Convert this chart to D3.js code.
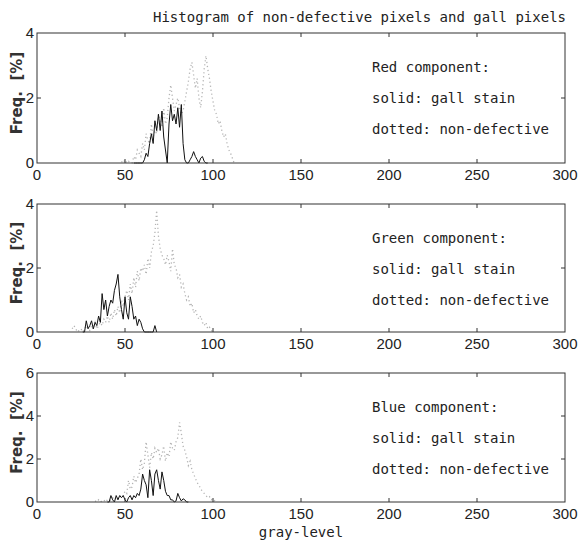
<!DOCTYPE html>
<html>
<head>
<meta charset="utf-8">
<script src="https://cdn.jsdelivr.net/npm/d3@7"></script>
<style>
  body { margin: 0; background: #fff; }
  .mono { font-family: "DejaVu Sans Mono", "Liberation Mono", monospace; }
  .tick-label { font-family: "Liberation Sans Narrow", "Liberation Sans", sans-serif; font-size: 15px; fill: #222; }
</style>
</head>
<body>
<div class="chart"></div>
<script>
// gray levels run from 0 to 300 on every panel
const xTicks = [0, 50, 100, 150, 200, 250, 300];
const titleText = "Histogram of non-defective pixels and gall pixels";
const componentNames = ["Red component:", "Green component:", "Blue component:"];
const yMaxes = [4, 4, 6];
const yTickSets = [[0, 2, 4], [0, 2, 4], [0, 2, 4, 6]];

// each series starts at a gray level and has one value per level after that
const redGallStart = 55;
const redGall = [0, 0, 0, 0, 0, 0, 0.1, 0.3, 0.2, 0.6, 0.9, 0.6, 1.3, 1.0, 1.5, 1.0, 1.6, 0.8, 0.4, 0,
  1.2, 1.8, 1.3, 1.5, 1.2, 1.7, 1.1, 1.8, 0.6, 0.1, 0, 0, 0.1, 0.2, 0.35, 0.2, 0.1, 0, 0.15, 0.2, 0.05, 0, 0];
const redClearStart = 48;
const redClear = [0.05, 0, 0.1, 0, 0.05, 0, 0, 0.2, 0.1, 0.4, 0.3, 0.2, 0.6, 0.4, 0.9, 0.7, 0.6, 1.2, 0.8, 1.0,
  0.9, 1.5, 1.3, 1.1, 1.7, 1.2, 1.4, 2.0, 2.4, 2.0, 1.6, 1.8, 2.0, 1.7, 1.5, 1.6, 1.9, 2.2, 2.5, 2.9,
  3.1, 2.7, 2.3, 2.6, 2.0, 1.7, 2.2, 2.9, 3.3, 2.9, 2.6, 2.2, 1.9, 1.6, 1.5, 1.2, 1.3, 1.0, 0.8, 0.9,
  0.6, 0.4, 0.3, 0.15, 0];

const greenGallStart = 26;
const greenGall = [0, 0, 0.35, 0.1, 0.2, 0.35, 0.1, 0.3, 0.2, 0.5, 0.3, 1.2, 0.7, 1.0, 0.5, 0.8, 1.0, 0.9, 1.3, 1.5,
  1.8, 1.1, 0.7, 0.4, 1.1, 0.6, 0.4, 1.1, 0.8, 0.4, 0.5, 0.2, 0.4, 0.3, 0.1, 0, 0, 0, 0, 0,
  0, 0.2, 0];
const greenClearStart = 20;
const greenClear = [0.1, 0.2, 0.1, 0, 0.05, 0.1, 0, 0.1, 0.2, 0.1, 0.05, 0.2, 0.1, 0.3, 0.1, 0.2, 0.3, 0.2, 0.4, 0.3,
  0.5, 0.3, 0.6, 0.4, 0.7, 0.5, 0.8, 0.6, 1.0, 0.8, 1.1, 1.3, 1.0, 1.5, 1.2, 1.7, 1.4, 1.9, 1.6, 2.0,
  1.9, 2.1, 1.8, 2.3, 2.0, 2.5, 2.7, 3.1, 3.8, 3.0, 2.6, 2.4, 2.3, 2.1, 2.4, 2.2, 1.9, 2.6, 2.1, 2.0,
  1.7, 1.8, 1.4, 1.5, 1.2, 1.0, 1.1, 0.8, 0.9, 0.6, 0.7, 0.5, 0.4, 0.5, 0.3, 0.2, 0.3, 0.1, 0.15, 0.05,
  0];

const blueGallStart = 40;
const blueGall = [0, 0, 0.3, 0.1, 0, 0.3, 0.1, 0.3, 0.2, 0.3, 0.1, 0, 0.2, 0.3, 0.1, 0.3, 0.2, 0.4, 0.3, 0.6,
  1.3, 1.0, 0.8, 0.2, 1.5, 1.0, 0.3, 1.3, 1.5, 1.0, 0.6, 1.4, 1.0, 0.5, 0.3, 0.3, 0.1, 0.1, 0, 0.05,
  0.4, 0.2, 0.05, 0.15, 0.1, 0, 0];
const blueClearStart = 33;
const blueClear = [0.05, 0, 0.1, 0, 0.05, 0.1, 0, 0.1, 0.05, 0.1, 0.2, 0.1, 0.2, 0.15, 0.3, 0.2, 0.3, 0.5, 0.4, 1.0,
  0.6, 0.7, 1.2, 0.9, 1.1, 1.3, 2.0, 1.5, 1.8, 2.8, 2.2, 1.6, 2.3, 2.0, 2.5, 2.3, 2.5, 2.0, 2.2, 2.6,
  1.9, 2.3, 2.1, 2.8, 2.5, 2.4, 2.8, 3.0, 3.7, 3.2, 2.6, 2.4, 2.1, 1.7, 1.9, 1.5, 1.3, 1.1, 0.9, 0.8,
  0.6, 0.5, 0.4, 0.3, 0.2, 0.25, 0.1, 0.15, 0.05, 0];

const gallSeries = [[redGallStart, redGall], [greenGallStart, greenGall], [blueGallStart, blueGall]];
const clearSeries = [[redClearStart, redClear], [greenClearStart, greenClear], [blueClearStart, blueClear]];

const width = 580;
const height = 544;
const left = 37, right = 565;
const panelTops = [33, 204, 373];
const panelBottoms = [163, 332, 502];

const svg = d3.select(".chart")
  .append("svg")
  .attr("width", width)
  .attr("height", height);

const x = d3.scaleLinear().domain([0, 300]).range([left, right]);

svg.append("text")
  .attr("class", "mono")
  .attr("x", 566)
  .attr("y", 22)
  .attr("text-anchor", "end")
  .style("font-size", "14px")
  .attr("fill", "#222")
  .text(titleText);

panelTops.forEach((top, p) => {
  const bottom = panelBottoms[p];
  const y = d3.scaleLinear().domain([0, yMaxes[p]]).range([bottom, top]);
  const g = svg.append("g");

  // dotted histogram for non-defective pixels (drawn first, under the solid one)
  const toPoints = ([start, vals]) => vals.map((v, i) => [start + i, v]);
  const line = d3.line().x(d => x(d[0])).y(d => y(d[1]));

  g.append("path")
    .datum(toPoints(clearSeries[p]))
    .attr("d", line)
    .attr("fill", "none")
    .attr("stroke", "#b4b4b4")
    .attr("stroke-width", 1.3)
    .attr("stroke-dasharray", "1.2,2.8");

  g.append("path")
    .datum(toPoints(gallSeries[p]))
    .attr("d", line)
    .attr("fill", "none")
    .attr("stroke", "#111")
    .attr("stroke-width", 1);

  // frame
  g.append("rect")
    .attr("x", left).attr("y", top)
    .attr("width", right - left).attr("height", bottom - top)
    .attr("fill", "none").attr("stroke", "#333").attr("stroke-width", 1);

  // x ticks, inward on bottom and top
  const inner = xTicks.slice(1, -1);
  g.selectAll(".xtb").data(inner).join("line")
    .attr("class", "xtb")
    .attr("x1", d => x(d)).attr("x2", d => x(d))
    .attr("y1", bottom).attr("y2", bottom - 4)
    .attr("stroke", "#333");
  g.selectAll(".xtt").data(inner).join("line")
    .attr("class", "xtt")
    .attr("x1", d => x(d)).attr("x2", d => x(d))
    .attr("y1", top).attr("y2", top + 4)
    .attr("stroke", "#333");
  g.selectAll(".xl").data(xTicks).join("text")
    .attr("class", "tick-label xl")
    .attr("x", d => x(d))
    .attr("y", bottom + 17)
    .attr("text-anchor", "middle")
    .text(d => d);

  // y ticks, inward on left and right
  const yInner = yTickSets[p].slice(1, -1);
  g.selectAll(".ytl").data(yInner).join("line")
    .attr("class", "ytl")
    .attr("x1", left).attr("x2", left + 4)
    .attr("y1", d => y(d)).attr("y2", d => y(d))
    .attr("stroke", "#333");
  g.selectAll(".ytr").data(yInner).join("line")
    .attr("class", "ytr")
    .attr("x1", right).attr("x2", right - 4)
    .attr("y1", d => y(d)).attr("y2", d => y(d))
    .attr("stroke", "#333");
  g.selectAll(".yl").data(yTickSets[p]).join("text")
    .attr("class", "tick-label yl")
    .attr("x", left - 3)
    .attr("y", d => y(d) + 5)
    .attr("text-anchor", "end")
    .text(d => d);

  g.append("text")
    .attr("transform", `translate(22, ${(top + bottom) / 2 - 5}) rotate(-90)`)
    .attr("text-anchor", "middle")
    .style("font-family", "'DejaVu Sans', sans-serif")
    .style("font-size", "15px")
    .style("font-weight", "bold")
    .style("white-space", "pre")
    .attr("fill", "#333")
    .text("Freq.  [%]");

  // in-panel notes
  const notes = [componentNames[p], "solid: gall stain", "dotted: non-defective"];
  g.selectAll(".note").data(notes).join("text")
    .attr("class", "mono note")
    .attr("x", 372)
    .attr("y", (d, i) => top + 39 + i * 31)
    .style("font-size", "14px")
    .attr("fill", "#222")
    .text(d => d);
});

svg.append("text")
  .attr("class", "mono")
  .attr("x", (left + right) / 2)
  .attr("y", 537)
  .attr("text-anchor", "middle")
  .style("font-size", "14px")
  .attr("fill", "#222")
  .text("gray-level");
</script>
</body>
</html>
